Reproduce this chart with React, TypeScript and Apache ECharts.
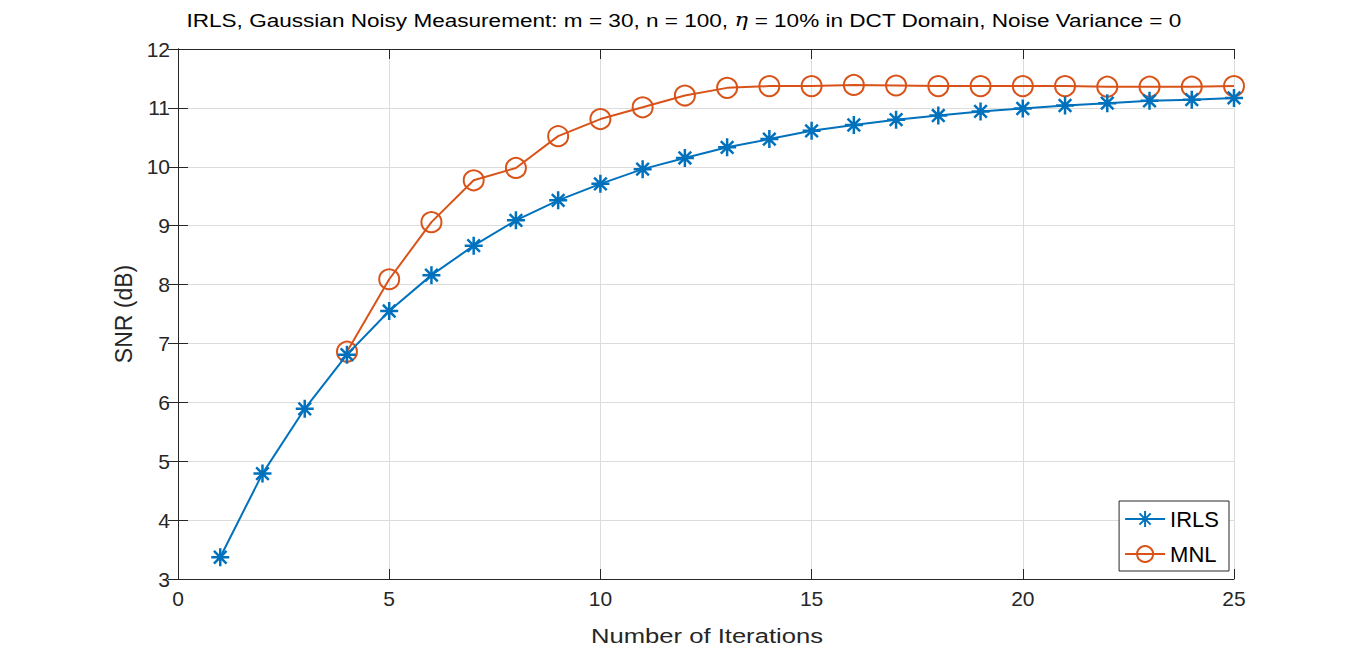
import React, { useEffect, useRef } from "react";
import * as echarts from "echarts";

const iterations = [1, 2, 3, 4, 5, 6, 7, 8, 9, 10, 11, 12, 13, 14, 15, 16, 17, 18, 19, 20, 21, 22, 23, 24, 25];
const irlsValues = [3.37, 4.79, 5.89, 6.81, 7.55, 8.16, 8.66, 9.09, 9.43, 9.71, 9.96, 10.15, 10.33, 10.47, 10.61, 10.71, 10.8, 10.87, 10.94, 10.99, 11.04, 11.08, 11.12, 11.14, 11.17];
const mnlIterations = [4, 5, 6, 7, 8, 9, 10, 11, 12, 13, 14, 15, 16, 17, 18, 19, 20, 21, 22, 23, 24, 25];
const mnlValues = [6.86, 8.09, 9.06, 9.77, 9.98, 10.52, 10.81, 11.01, 11.21, 11.34, 11.37, 11.37, 11.39, 11.38, 11.37, 11.37, 11.37, 11.37, 11.36, 11.36, 11.36, 11.37];
const seriesNames = ["IRLS", "MNL"];
const xTicks = { min: 0, max: 25, interval: 5 };
const yTicks = { min: 3, max: 12, interval: 1 };
const titleText = "IRLS, Gaussian Noisy Measurement: m = 30, n = 100, {eta|η} = 10% in DCT Domain, Noise Variance = 0";
const xAxisName = "Number of Iterations";
const yAxisName = "SNR (dB)";

const BLUE = "#0072BD";
const ORANGE = "#D95319";
const AXIS = "#262626";
const FONT = "'Liberation Sans', Arial, Helvetica, sans-serif";
const STRETCH = 1.22;

const asterisk = "path://M10 0 L10 20 M0 10 L20 10 M3 3 L17 17 M3 17 L17 3";

export default function App() {
  const ref = useRef<HTMLDivElement>(null);
  useEffect(() => {
    if (!ref.current) return;
    const chart = echarts.init(ref.current, undefined, { renderer: "svg" });
    const irlsData = iterations.map((x, i) => [x, irlsValues[i]]);
    const mnlData = mnlIterations.map((x, i) => [x, mnlValues[i]]);
    const hiddenAxis = {
      axisLabel: { show: false },
      splitLine: { show: false },
      axisLine: { show: true, lineStyle: { color: AXIS, width: 1 } },
      axisTick: { show: true, inside: true, length: 10, lineStyle: { color: AXIS } },
    };
    chart.setOption({
      animation: false,
      backgroundColor: "#ffffff",
      graphic: [
        {
          type: "text",
          x: 684,
          y: 20,
          scaleX: STRETCH,
          silent: true,
          style: {
            text: titleText,
            fontFamily: FONT,
            fontSize: 18.5,
            fill: "#000",
            textAlign: "center",
            textVerticalAlign: "middle",
            rich: {
              eta: { fontFamily: "'DejaVu Serif', serif", fontStyle: "italic", fontSize: 18.5, fill: "#000" },
            },
          },
        },
        {
          type: "text",
          x: 707,
          y: 636,
          scaleX: STRETCH,
          silent: true,
          style: {
            text: xAxisName,
            fontFamily: FONT,
            fontSize: 21,
            fill: AXIS,
            textAlign: "center",
            textVerticalAlign: "middle",
          },
        },
      ],
      grid: { left: 178, right: 132, top: 49, bottom: 72, containLabel: false },
      legend: {
        right: 137,
        top: 501,
        orient: "vertical",
        backgroundColor: "#fff",
        borderColor: AXIS,
        borderWidth: 1,
        padding: [7, 10, 6, 5],
        itemGap: 13,
        itemWidth: 40,
        itemHeight: 20,
        textStyle: { fontFamily: FONT, fontSize: 22, color: "#000" },
        data: seriesNames,
      },
      xAxis: [
        {
          type: "value",
          min: xTicks.min,
          max: xTicks.max,
          interval: xTicks.interval,
          axisLine: { show: true, onZero: false, lineStyle: { color: AXIS, width: 1 } },
          axisTick: { show: true, inside: true, length: 10, lineStyle: { color: AXIS } },
          axisLabel: { fontFamily: FONT, fontSize: 21, color: AXIS, margin: 9 },
          splitLine: { show: true, lineStyle: { color: "#dcdcdc", width: 1 } },
        },
        { type: "value", position: "top", min: xTicks.min, max: xTicks.max, interval: xTicks.interval, ...hiddenAxis },
      ],
      yAxis: [
        {
          type: "value",
          min: yTicks.min,
          max: yTicks.max,
          interval: yTicks.interval,
          name: yAxisName,
          nameLocation: "middle",
          nameGap: 43,
          nameTextStyle: { fontFamily: FONT, fontSize: 23, color: AXIS },
          axisLine: { show: true, onZero: false, lineStyle: { color: AXIS, width: 1 } },
          axisTick: { show: true, inside: true, length: 10, lineStyle: { color: AXIS } },
          axisLabel: { fontFamily: FONT, fontSize: 21, color: AXIS, margin: 8 },
          splitLine: { show: true, lineStyle: { color: "#dcdcdc", width: 1 } },
        },
        { type: "value", position: "right", min: yTicks.min, max: yTicks.max, interval: yTicks.interval, ...hiddenAxis },
      ],
      series: [
        {
          name: seriesNames[0],
          type: "line",
          data: irlsData,
          symbol: asterisk,
          symbolSize: 18,
          showAllSymbol: true,
          color: BLUE,
          lineStyle: { color: BLUE, width: 2 },
          itemStyle: { color: BLUE, borderColor: BLUE, borderWidth: 2.5 },
          z: 3,
        },
        {
          name: seriesNames[1],
          type: "line",
          data: mnlData,
          symbol: "circle",
          symbolSize: 20,
          showAllSymbol: true,
          color: ORANGE,
          lineStyle: { color: ORANGE, width: 2 },
          itemStyle: { color: "rgba(255,255,255,0)", borderColor: ORANGE, borderWidth: 2 },
          z: 2,
        },
      ],
    });
    return () => chart.dispose();
  }, []);
  return (
    <div
      ref={ref}
      style={{ position: "absolute", left: 0, top: 0, width: 1366, height: 651 }}
    />
  );
}
